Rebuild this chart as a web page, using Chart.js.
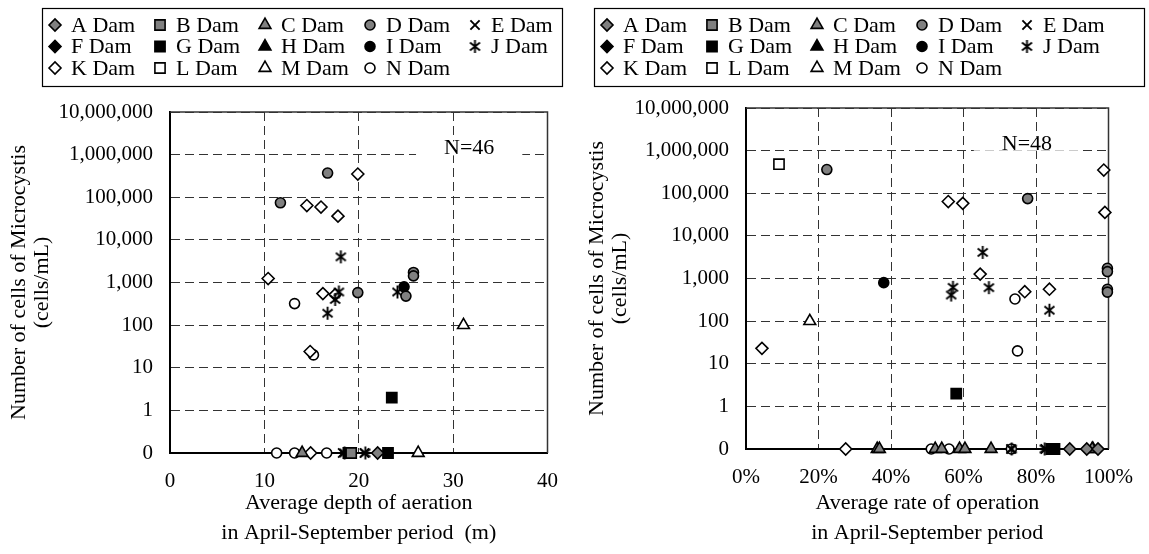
<!DOCTYPE html>
<html>
<head>
<meta charset="utf-8">
<script src="https://cdn.jsdelivr.net/npm/chart.js@4.4.0/dist/chart.umd.min.js"></script>
<style>
  html, body { margin: 0; padding: 0; background: #fff; }
  #wrap { position: relative; width: 1149px; height: 554px; }
  .panel { position: absolute; top: 0; width: 574px; height: 554px; }
  #p1 { left: 0; }
  #p2 { left: 575px; }
</style>
</head>
<body>
<div id="wrap">
  <div class="panel" id="p1"><canvas id="c-depth" width="574" height="554"></canvas></div>
  <div class="panel" id="p2"><canvas id="c-rate" width="574" height="554"></canvas></div>
</div>
<script>
/* ── Dados ────────────────────────────────────────────────────── */
const damNames  = ['A Dam', 'B Dam', 'C Dam', 'D Dam', 'E Dam', 'F Dam', 'G Dam',
                   'H Dam', 'I Dam', 'J Dam', 'K Dam', 'L Dam', 'M Dam', 'N Dam'];
const cellTicks = [0, 1, 10, 100, 1000, 10000, 100000, 1000000, 10000000];
const depthTicks = [0, 10, 20, 30, 40];
const rateTicks  = [0, 20, 40, 60, 80, 100];

// painel esquerdo: [profundidade média de aeração (m), células/mL]
const depthA = [[22.0, 0]];
const depthB = [[19.2, 0]];
const depthC = [[14.0, 0]];
const depthD = [[16.7, 370000], [11.7, 74000], [25.8, 1720], [25.8, 1430], [19.9, 580], [25.0, 480]];
const depthE = [[18.3, 0], [20.6, 0]];
const depthF = [];
const depthG = [[23.5, 2], [18.9, 0], [23.1, 0]];
const depthH = [];
const depthI = [[24.8, 790]];
const depthJ = [[18.1, 4000], [17.9, 600], [17.5, 400], [16.7, 190], [24.1, 600], [18.5, 0], [20.7, 0]];
const depthK = [[19.9, 350000], [14.5, 64000], [16.0, 59000], [17.8, 36000], [10.4, 1240],
                [16.2, 550], [17.5, 520], [14.85, 24], [14.9, 0]];
const depthL = [];
const depthM = [[31.1, 100], [26.3, 0]];
const depthN = [[13.2, 320], [15.2, 20], [11.3, 0], [13.2, 0], [16.6, 0]];

// painel direito: [taxa média de operação (%), células/mL]
const rateA = [[89.3, 0], [94.0, 0], [97.1, 0]];
const rateB = [];
const rateC = [[36.2, 0], [36.8, 0], [52.2, 0], [54.0, 0], [58.9, 0], [60.4, 0], [67.6, 0], [95.5, 0]];
const rateD = [[22.3, 360000], [77.7, 75000], [99.7, 1740], [99.7, 1450], [99.7, 560], [99.7, 480]];
const rateE = [[73.1, 0], [82.6, 0]];
const rateF = [];
const rateG = [[58.0, 2], [84.2, 0], [85.1, 0]];
const rateH = [];
const rateI = [[38.0, 800]];
const rateJ = [[65.3, 4100], [57.1, 620], [56.6, 410], [67.0, 610], [83.7, 180], [73.3, 0], [82.4, 0]];
const rateK = [[55.8, 64000], [59.8, 58000], [98.7, 350000], [99.0, 35500], [64.6, 1270],
               [76.9, 490], [83.7, 560], [4.4, 23], [27.5, 0]];
const rateL = [[9.1, 480000]];
const rateM = [[17.6, 100], [95.7, 0]];
const rateN = [[74.2, 330], [74.9, 20], [51.1, 0], [56.0, 0], [73.2, 0]];

const depthSeries = [depthA, depthB, depthC, depthD, depthE, depthF, depthG,
                     depthH, depthI, depthJ, depthK, depthL, depthM, depthN];
const rateSeries  = [rateA, rateB, rateC, rateD, rateE, rateF, rateG,
                     rateH, rateI, rateJ, rateK, rateL, rateM, rateN];

const ZERO_AT = 0.1;   // "0" fica no piso do eixo log

/* ── Estilos ──────────────────────────────────────────────────── */
const GRAY = '#808080';
const FONT = '"Liberation Serif", "Times New Roman", serif';
const damStyle = [
  { shape: 'rectRot',  fill: GRAY },   // A
  { shape: 'rect',     fill: GRAY },   // B
  { shape: 'triangle', fill: GRAY },   // C
  { shape: 'circle',   fill: GRAY },   // D
  { shape: 'crossRot', fill: '#000' }, // E
  { shape: 'rectRot',  fill: '#000' }, // F
  { shape: 'rect',     fill: '#000' }, // G
  { shape: 'triangle', fill: '#000' }, // H
  { shape: 'circle',   fill: '#000' }, // I
  { shape: 'asterisk', fill: '#000' }, // J
  { shape: 'rectRot',  fill: '#fff' }, // K
  { shape: 'rect',     fill: '#fff' }, // L
  { shape: 'triangle', fill: '#fff' }, // M
  { shape: 'circle',   fill: '#fff' }, // N
];
const shapeRadius = { rectRot: 6, rect: 7.2, triangle: 6.8, circle: 5, crossRot: 6.5, asterisk: 6 };

Chart.defaults.font.family = FONT;
Chart.defaults.color = '#000';

function makeAsterisk(size) {
  const c = document.createElement('canvas');
  c.width = c.height = size;
  const g = c.getContext('2d');
  g.strokeStyle = '#000';
  g.lineWidth = 1.9;
  const h = size / 2;
  g.beginPath();
  g.moveTo(2.5, 3.5); g.lineTo(size - 2.5, size - 3.5);
  g.moveTo(size - 2.5, 3.5); g.lineTo(2.5, size - 3.5);
  g.moveTo(h, 1); g.lineTo(h, size - 1);
  g.stroke();
  return c;
}
const asteriskImg = makeAsterisk(15);

function buildDatasets(series) {
  return series.map((pts, i) => {
    const st = damStyle[i];
    return {
      label: damNames[i],
      data: pts.map(([x, y]) => ({ x, y: y === 0 ? ZERO_AT : y })),
      pointStyle: st.shape === 'asterisk' ? asteriskImg : st.shape,
      pointRadius: shapeRadius[st.shape],
      pointBackgroundColor: st.fill,
      pointBorderColor: '#000',
      pointBorderWidth: st.shape === 'crossRot' ? 1.9 : 1.6,
      showLine: false,
      clip: false,
    };
  });
}

/* ── Plugins ──────────────────────────────────────────────────── */
// moldura superior/direita da área do gráfico
const frame = {
  id: 'frame',
  beforeDatasetsDraw(chart) {
    const { ctx, chartArea: a } = chart;
    ctx.save();
    ctx.strokeStyle = '#333';
    ctx.lineWidth = 1.5;
    ctx.beginPath();
    ctx.moveTo(a.left, a.top);
    ctx.lineTo(a.right, a.top);
    ctx.lineTo(a.right, a.bottom);
    ctx.stroke();
    ctx.restore();
  },
};

// legenda em grade 5 colunas, com caixa
const damLegend = {
  id: 'damLegend',
  afterDraw(chart, args, o) {
    const { ctx } = chart;
    ctx.save();
    ctx.strokeStyle = '#000';
    ctx.lineWidth = 1.2;
    ctx.strokeRect(o.left + 0.5, o.top + 0.5, o.width, o.height);
    ctx.font = `${o.fontSize}px ${FONT}`;
    ctx.textBaseline = 'middle';
    chart.data.datasets.forEach((ds, i) => {
      const x = o.left + o.padX + (i % 5) * o.colW;
      const y = o.top + o.padY + Math.floor(i / 5) * o.rowH;
      ctx.fillStyle = ds.pointBackgroundColor;
      ctx.strokeStyle = ds.pointBorderColor;
      ctx.lineWidth = ds.pointBorderWidth;
      Chart.helpers.drawPoint(ctx, {
        pointStyle: ds.pointStyle, radius: ds.pointRadius,
        borderWidth: ds.pointBorderWidth, rotation: 0,
      }, x, y);
      ctx.fillStyle = '#000';
      ctx.fillText(ds.label, x + o.textGap, y + 1);
    });
    ctx.restore();
  },
};

// rótulo N=.. com fundo branco
const nLabel = {
  id: 'nLabel',
  afterDatasetsDraw(chart, args, o) {
    const { ctx, scales: { x, y } } = chart;
    const px = x.getPixelForValue(o.x);
    const py = y.getPixelForValue(o.y);
    ctx.save();
    ctx.font = `22px ${FONT}`;
    const w = ctx.measureText(o.text).width;
    ctx.fillStyle = '#fff';
    ctx.fillRect(px - w / 2 - 28, py - 7, w + 56, 14);
    ctx.fillStyle = '#000';
    ctx.textAlign = 'center';
    ctx.textBaseline = 'middle';
    ctx.fillText(o.text, px, py);
    ctx.restore();
  },
};

/* ── Montagem ─────────────────────────────────────────────────── */
function cellAxis(width, titlePad) {
  return {
    type: 'logarithmic',
    min: ZERO_AT,
    max: 10000000,
    afterBuildTicks: s => { s.ticks = cellTicks.map(v => ({ value: v === 0 ? ZERO_AT : v })); },
    afterFit: s => { s.width = width; },
    ticks: {
      padding: 17,
      font: { size: 21 },
      callback: v => (v === ZERO_AT ? '0' : Number(v).toLocaleString('en-US')),
    },
    grid: { color: '#333', lineWidth: 1, drawTicks: false },
    border: { color: '#000', width: 2, dash: [9, 5] },
    title: {
      display: true,
      text: ['Number of cells of Microcystis', '(cells/mL)'],
      font: { size: 22, lineHeight: 1.05 },
      padding: { top: titlePad, bottom: 0 },
    },
  };
}

function xAxis(max, step, ticks, fmt, title, height) {
  return {
    type: 'linear',
    min: 0,
    max,
    afterBuildTicks: s => { s.ticks = ticks.map(v => ({ value: v })); },
    afterFit: s => { s.height = height; },
    ticks: { stepSize: step, padding: 16, font: { size: 21 }, callback: fmt },
    grid: { color: '#333', lineWidth: 1, drawTicks: false },
    border: { color: '#000', width: 2, dash: [9, 5] },
    title: {
      display: true,
      text: title,
      font: { size: 22, lineHeight: 1.35 },
      padding: { top: 0, bottom: 0 },
    },
  };
}

new Chart(document.getElementById('c-depth'), {
  type: 'scatter',
  data: { datasets: buildDatasets(depthSeries) },
  options: {
    responsive: false,
    animation: false,
    layout: { padding: { top: 112, right: 23, bottom: 6, left: 0 } },
    scales: {
      x: xAxis(40, 10, depthTicks, v => v,
        ['Average depth of aeration', 'in April-September period  (m)'], 95),
      y: cellAxis(170, 8),
    },
    plugins: {
      legend: { display: false },
      tooltip: { enabled: false },
      damLegend: { left: 42, top: 8, width: 520, height: 78, padX: 13, padY: 17, colW: 105, rowH: 21.5, textGap: 16, fontSize: 22 },
      nLabel: { x: 31.7, y: 1400000, text: 'N=46' },
    },
  },
  plugins: [frame, damLegend, nLabel],
});

new Chart(document.getElementById('c-rate'), {
  type: 'scatter',
  data: { datasets: buildDatasets(rateSeries) },
  options: {
    responsive: false,
    animation: false,
    layout: { padding: { top: 108, right: 28, bottom: 6, left: 0 } },
    scales: {
      x: xAxis(100, 20, rateTicks, v => v + '%',
        ['Average rate of operation', 'in April-September period'], 99),
      y: cellAxis(171, 11),
    },
    plugins: {
      legend: { display: false },
      tooltip: { enabled: false },
      damLegend: { left: 19, top: 8, width: 550, height: 78, padX: 13, padY: 17, colW: 105, rowH: 21.5, textGap: 16, fontSize: 22 },
      nLabel: { x: 77.5, y: 1450000, text: 'N=48' },
    },
  },
  plugins: [frame, damLegend, nLabel],
});
</script>
</body>
</html>
